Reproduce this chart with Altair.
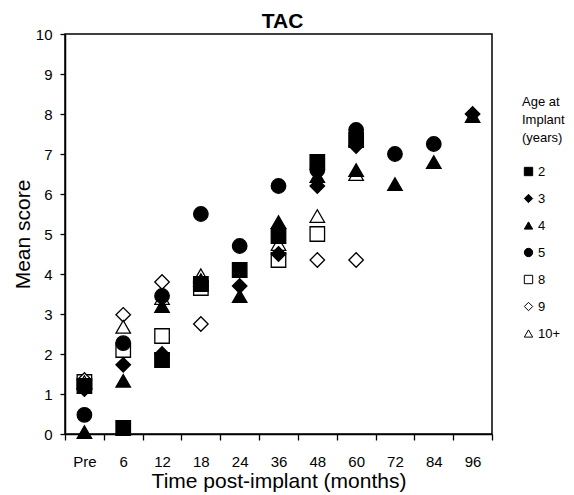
import altair as alt
import pandas as pd

times = ["Pre", "6", "12", "18", "24", "36", "48", "60", "72", "84", "96"]
ages = ["2", "3", "4", "5", "8", "9", "10+"]

# values per age group (None = no point at that time)
age_2   = [1.2, 0.15, 1.85, 3.75, 4.1, 4.95, 6.8, 7.35, None, None, None]
age_3   = [1.12, 1.73, 2.0, 3.75, 3.7, 4.5, 6.2, 7.2, None, None, 8.0]
age_4   = [0.05, 1.33, 3.2, 3.85, 3.45, 5.3, 6.45, 6.6, 6.25, 6.8, 7.95]
age_5   = [0.48, 2.27, 3.45, 5.5, 4.7, 6.2, 6.6, 7.6, 7.0, 7.25, None]
age_8   = [1.3, 2.1, 2.45, 3.65, None, 4.35, 5.0, None, None, None, None]
age_9   = [1.35, 2.98, 3.8, 2.75, None, None, 4.35, 4.35, None, None, None]
age_10p = [1.3, 2.68, 3.4, 3.97, None, 4.75, 5.45, 6.5, None, None, None]

series = {"2": age_2, "3": age_3, "4": age_4, "5": age_5,
          "8": age_8, "9": age_9, "10+": age_10p}
draw_order = ["8", "9", "10+", "2", "3", "4", "5"]

rows = []
for i, a in enumerate(draw_order):
    for t, v in zip(times, series[a]):
        if v is not None:
            rows.append({"time": t, "age": a, "score": v, "ord": i})
df = pd.DataFrame(rows)

shapes = ["square", "diamond", "triangle-up", "circle", "square", "diamond", "triangle-up"]
fills = ["black", "black", "black", "black", "white", "white", "white"]
strokes = ["black"] * 7

font = "Liberation Sans"
leg_title = ["Age at", "Implant", "(years)"]

chart = alt.Chart(df).mark_point(
    filled=True, size=210, strokeWidth=1.3, opacity=1
).encode(
    x=alt.X("time:N", sort=times,
            scale=alt.Scale(domain=times, paddingInner=0, paddingOuter=0),
            axis=alt.Axis(title="Time post-implant (months)", labelAngle=0,
                          tickBand="extent", tickSize=6, labelPadding=14,
                          labelFontSize=15, titleFontSize=21,
                          titleFontWeight="normal", titleY=47,
                          titleBaseline="middle")),
    y=alt.Y("score:Q", scale=alt.Scale(domain=[0, 10], nice=False),
            axis=alt.Axis(title="Mean score", values=list(range(0, 11)),
                          tickSize=5, labelPadding=8, labelFontSize=15,
                          titleFontSize=21, titleFontWeight="normal",
                          titleX=-42, titleBaseline="middle", grid=False)),
    shape=alt.Shape("age:N", scale=alt.Scale(domain=ages, range=shapes),
                    legend=alt.Legend(title=leg_title)),
    fill=alt.Fill("age:N", scale=alt.Scale(domain=ages, range=fills),
                  legend=alt.Legend(title=leg_title)),
    stroke=alt.Stroke("age:N", scale=alt.Scale(domain=ages, range=strokes),
                      legend=alt.Legend(title=leg_title)),
    order=alt.Order("ord:Q"),
).properties(
    width=427, height=400,
    title=alt.TitleParams("TAC", fontSize=21, fontWeight="bold", font=font,
                          offset=6, dx=4, dy=11, color="black"),
    autosize=alt.AutoSizeParams(type="none"),
    padding={"left": 57, "top": 26, "right": 74, "bottom": 70},
).configure_view(
    stroke="black", strokeWidth=1.5
).configure_axis(
    labelFont=font, titleFont=font, labelColor="black", titleColor="black",
    domainColor="black", tickColor="black", domainWidth=1.5, tickWidth=1.3,
    grid=False
).configure_legend(
    orient="none", legendX=457, legendY=62,
    titleFont=font, labelFont=font, titleFontSize=13, labelFontSize=13,
    titleFontWeight="normal", titleLineHeight=18, titleColor="black",
    labelColor="black", titlePadding=20, rowPadding=13, symbolSize=70,
    symbolStrokeWidth=1, labelOffset=3, titleAlign="left"
)

chart.save("out.html", embed_options={"renderer": "svg", "actions": False})
